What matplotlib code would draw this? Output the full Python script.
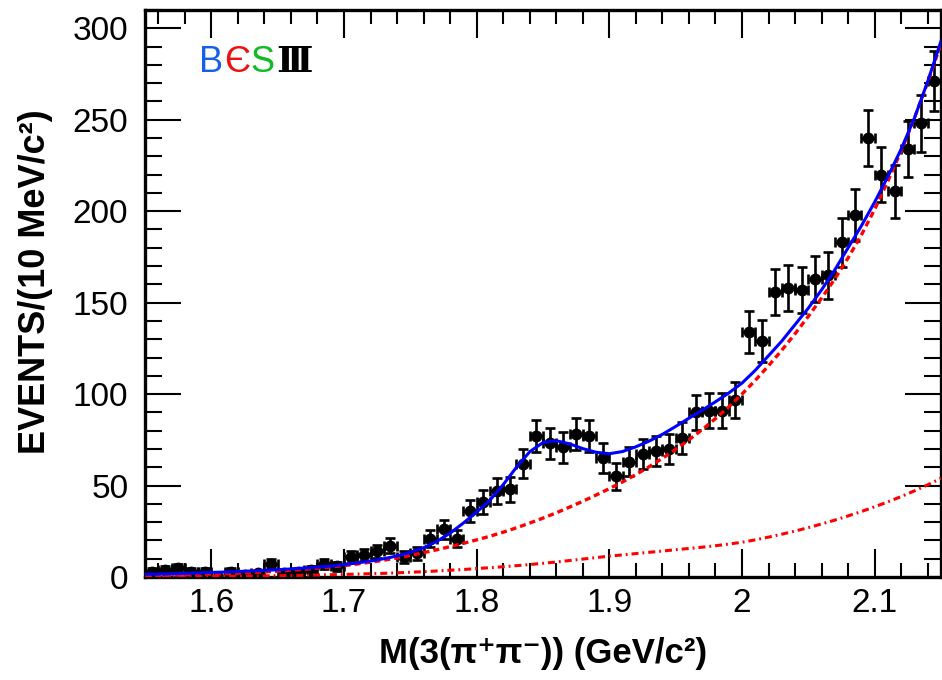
import numpy as np
import matplotlib
matplotlib.use("Agg")
import matplotlib.pyplot as plt
from matplotlib.ticker import MultipleLocator, FuncFormatter

plt.rcParams['font.family'] = ['Liberation Sans', 'DejaVu Sans']

# bin centres of M(3(pi+pi-)), 10 MeV bins
mass = [1.555, 1.565, 1.575, 1.585, 1.595, 1.605, 1.615, 1.625, 1.635, 1.645,
        1.655, 1.665, 1.675, 1.685, 1.695, 1.705, 1.715, 1.725, 1.735, 1.745,
        1.755, 1.765, 1.775, 1.785, 1.795, 1.805, 1.815, 1.825, 1.835, 1.845,
        1.855, 1.865, 1.875, 1.885, 1.895, 1.905, 1.915, 1.925, 1.935, 1.945,
        1.955, 1.965, 1.975, 1.985, 1.995, 2.005, 2.015, 2.025, 2.035, 2.045,
        2.055, 2.065, 2.075, 2.085, 2.095, 2.105, 2.115, 2.125, 2.135, 2.145]
events = [3, 4, 5, 3, 3, 0, 3, 1, 2, 7,
          2, 3, 4, 7, 6, 11, 12, 14, 17, 11,
          13, 21, 26, 21, 36, 41, 47, 48, 62, 77,
          73, 71, 78, 77, 65, 55, 63, 67, 69, 70,
          76, 90, 91, 91, 97, 134, 129, 156, 158, 157,
          163, 165, 183, 198, 240, 220, 211, 234, 248, 271]

# fit curves
fit_x = [1.55, 1.56, 1.57, 1.58, 1.59, 1.60, 1.61, 1.62, 1.63, 1.64,
         1.65, 1.66, 1.67, 1.68, 1.69, 1.70, 1.71, 1.72, 1.73, 1.74,
         1.75, 1.76, 1.77, 1.78, 1.79, 1.80, 1.81, 1.82, 1.83, 1.84,
         1.85, 1.86, 1.87, 1.88, 1.89, 1.90, 1.91, 1.92, 1.93, 1.94,
         1.95, 1.96, 1.97, 1.98, 1.99, 2.00, 2.01, 2.02, 2.03, 2.04,
         2.05, 2.06, 2.07, 2.08, 2.09, 2.10, 2.11, 2.12, 2.13, 2.14, 2.15]
fit_total = [1.5, 1.6, 1.8, 2.0, 2.2, 2.5, 2.7, 3.0, 3.3, 3.6,
             4.0, 4.4, 4.9, 5.4, 6.0, 6.8, 7.7, 8.7, 10.0, 11.5,
             13.5, 16.0, 19.5, 24.0, 29.5, 35.5, 42.0, 50.5, 60.0, 68.5,
             73.5, 74.5, 72.8, 70.2, 68.2, 67.4, 68.6, 71.2, 74.3, 78.0,
             82.3, 86.8, 91.2, 95.8, 100.6, 106.0, 113.0, 121.0, 129.0, 138.0,
             147.0, 157.0, 168.0, 180.0, 192.0, 205.0, 219.0, 234.0, 251.0, 271.0, 293.0]
fit_bkg = [0.8, 0.9, 1.0, 1.2, 1.4, 1.6, 1.8, 2.1, 2.4, 2.8,
           3.2, 3.7, 4.2, 4.8, 5.5, 6.2, 7.1, 8.1, 9.2, 10.4,
           11.8, 13.3, 14.9, 16.6, 18.4, 20.3, 22.3, 24.5, 26.9, 29.5,
           32.2, 35.1, 38.2, 41.4, 44.8, 48.3, 52.0, 56.0, 60.3, 64.9,
           69.8, 75.0, 80.6, 86.6, 93.0, 100.0, 107.5, 115.5, 124.0, 133.0,
           142.5, 152.5, 163.0, 174.5, 187.0, 201.0, 216.5, 233.0, 251.0, 270.5, 291.5]
fit_bkg2 = [0.1, 0.1, 0.15, 0.2, 0.25, 0.3, 0.35, 0.4, 0.5, 0.6,
            0.7, 0.8, 0.95, 1.1, 1.25, 1.4, 1.6, 1.8, 2.0, 2.3,
            2.6, 2.9, 3.3, 3.7, 4.1, 4.6, 5.1, 5.6, 6.2, 6.8,
            7.5, 8.2, 9.0, 9.8, 10.6, 11.4, 12.1, 12.8, 13.5, 14.2,
            14.9, 15.6, 16.3, 17.1, 18.0, 19.0, 20.3, 21.8, 23.4, 25.1,
            27.0, 29.0, 31.1, 33.4, 35.8, 38.4, 41.1, 44.0, 47.1, 50.4, 54.0]

fig = plt.figure(figsize=(9.42, 6.8), dpi=100)
ax = fig.add_axes([145 / 942, 103 / 680, 796 / 942, 567 / 680])

ax.errorbar(mass, events, xerr=0.005, yerr=np.sqrt(events), fmt='o',
            color='black', ms=7.5, elinewidth=1.9, capsize=3.5, capthick=1.9, zorder=2)

ax.plot(fit_x, fit_bkg2, color='red', lw=2.2, ls=(0, (2.3, 1.3, 0.6, 1.3)), zorder=3)
ax.plot(fit_x, fit_bkg, color='red', lw=2.4, ls=(0, (1.8, 1.2)), zorder=3)
ax.plot(fit_x, fit_total, color='blue', lw=2.2, zorder=4)

ax.set_xlim(1.55, 2.15)
ax.set_ylim(0, 310)
ax.xaxis.set_major_locator(MultipleLocator(0.1))
ax.xaxis.set_minor_locator(MultipleLocator(0.02))
ax.yaxis.set_major_locator(MultipleLocator(50))
ax.yaxis.set_minor_locator(MultipleLocator(10))
ax.xaxis.set_major_formatter(FuncFormatter(lambda v, p: f"{v:g}"))

ax.tick_params(which='both', direction='in', top=True, right=True, width=1.5,
               labelsize=24, colors='black')
ax.tick_params(axis='x', which='major', length=20, pad=8)
ax.tick_params(axis='x', which='minor', length=10)
ax.tick_params(axis='y', which='major', length=26, pad=12)
ax.tick_params(axis='y', which='minor', length=12)
for s in ax.spines.values():
    s.set_linewidth(2.4)

ax.set_xlabel("M(3(π⁺π⁻)) (GeV/c²)", fontsize=25, fontweight='bold')
ax.set_ylabel("EVENTS/(10 MeV/c²)", fontsize=26, fontweight='bold')
ax.xaxis.set_label_coords(0.5, -0.105)
ax.yaxis.set_label_coords(-0.115, 0.52)

# BESIII logo
logo_y = 0.908
ax.text(0.068, logo_y, "B", color='#1560e8', fontsize=26, va='center', ha='left', transform=ax.transAxes)
ax.text(0.099, logo_y, "Є", color='#ee1111', fontsize=26, va='center', ha='left', transform=ax.transAxes)
ax.text(0.133, logo_y, "S", color='#11bb22', fontsize=26, va='center', ha='left', transform=ax.transAxes)
ax.text(0.165, logo_y, "Ⅲ", color='black', fontsize=26, fontweight='bold', va='center', ha='left',
        family=['DejaVu Serif', 'DejaVu Sans'], transform=ax.transAxes)

plt.savefig("out.png", dpi=100)
plt.close()
